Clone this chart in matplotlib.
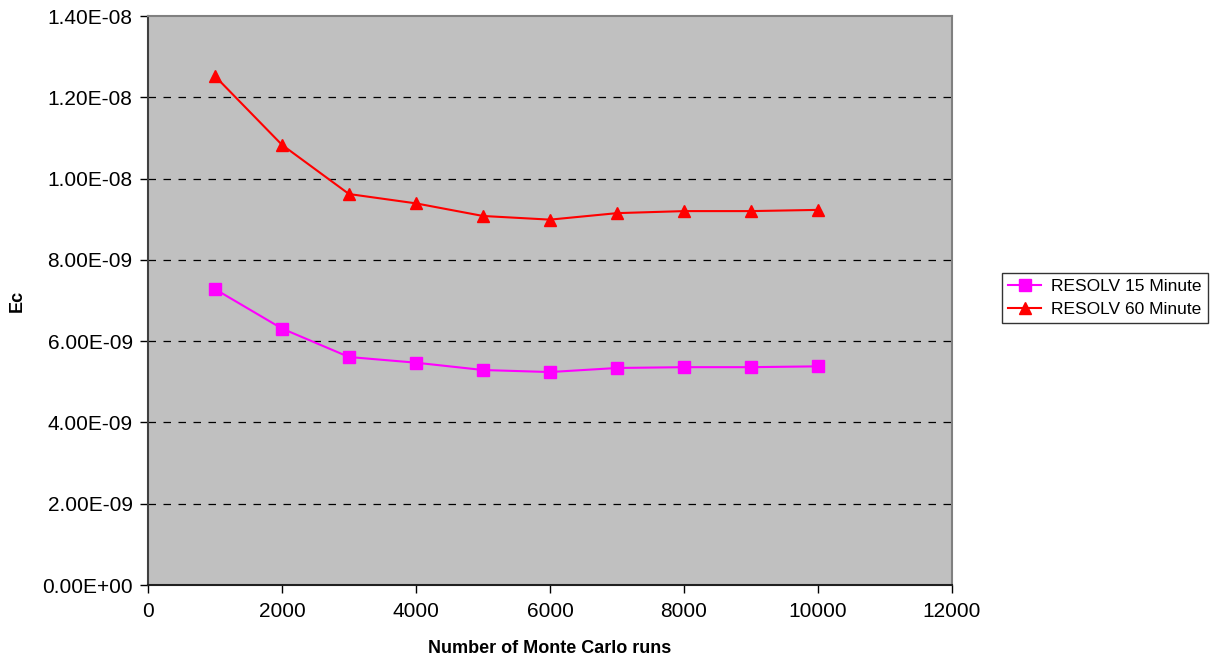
import numpy as np
import matplotlib
matplotlib.use('Agg')
import matplotlib.pyplot as plt
from matplotlib.ticker import FuncFormatter

# Datos
runs = [1000, 2000, 3000, 4000, 5000, 6000, 7000, 8000, 9000, 10000]
ec_15min = [7.28e-9, 6.31e-9, 5.61e-9, 5.47e-9, 5.29e-9, 5.24e-9, 5.34e-9, 5.36e-9, 5.36e-9, 5.38e-9]
ec_60min = [1.252e-8, 1.083e-8, 9.62e-9, 9.39e-9, 9.08e-9, 8.99e-9, 9.15e-9, 9.20e-9, 9.20e-9, 9.23e-9]
y_ticks = np.arange(0, 1.41e-8, 2e-9)
x_ticks = np.arange(0, 12001, 2000)

plt.rcParams['font.family'] = ['Liberation Sans', 'DejaVu Sans']

fig = plt.figure(figsize=(12.17, 6.62), dpi=100)
ax = fig.add_axes([0.1216, 0.1163, 0.6607, 0.8595])
ax.set_facecolor('#c0c0c0')

for yv in y_ticks[1:-1]:
    ax.axhline(yv, color='black', linestyle=(0, (6, 6)), linewidth=0.9, zorder=1)

ax.plot(runs, ec_15min, color='#ff00ff', marker='s', markersize=8, linewidth=1.5,
        label='RESOLV 15 Minute', zorder=3)
ax.plot(runs, ec_60min, color='#ff0000', marker='^', markersize=9, linewidth=1.5,
        label='RESOLV 60 Minute', zorder=3)

ax.set_xlim(0, 12000)
ax.set_ylim(0, 1.4e-8)
ax.set_xticks(x_ticks)
ax.set_yticks(y_ticks)
ax.yaxis.set_major_formatter(FuncFormatter(lambda v, p: '%.2E' % v if v != 0 else '0.00E+00'))
ax.tick_params(axis='both', direction='out', length=6, width=1, labelsize=15, color='black')
ax.tick_params(axis='x', pad=6)
ax.tick_params(axis='y', pad=5)

ax.spines['left'].set_color('#404040')
ax.spines['bottom'].set_color('#202020')
ax.spines['left'].set_linewidth(1.5)
ax.spines['bottom'].set_linewidth(1.5)
ax.spines['top'].set_color('#808080')
ax.spines['right'].set_color('#808080')
ax.spines['top'].set_linewidth(1.5)
ax.spines['right'].set_linewidth(1.5)

ax.set_xlabel('Number of Monte Carlo runs', fontsize=13, fontweight='bold', labelpad=14)
ax.set_ylabel('Ec', fontsize=13, fontweight='bold')
ax.yaxis.set_label_coords((26 - 148) / 804, 0.5)

leg = fig.legend(loc='upper left', bbox_to_anchor=(1002 / 1217, 1 - 273 / 662), fontsize=12.5,
                 frameon=True, fancybox=False, edgecolor='black', borderpad=0.35,
                 handlelength=1.9, handletextpad=0.6, labelspacing=0.45, borderaxespad=0)
leg.get_frame().set_linewidth(1)

fig.savefig('out.png', dpi=100)
